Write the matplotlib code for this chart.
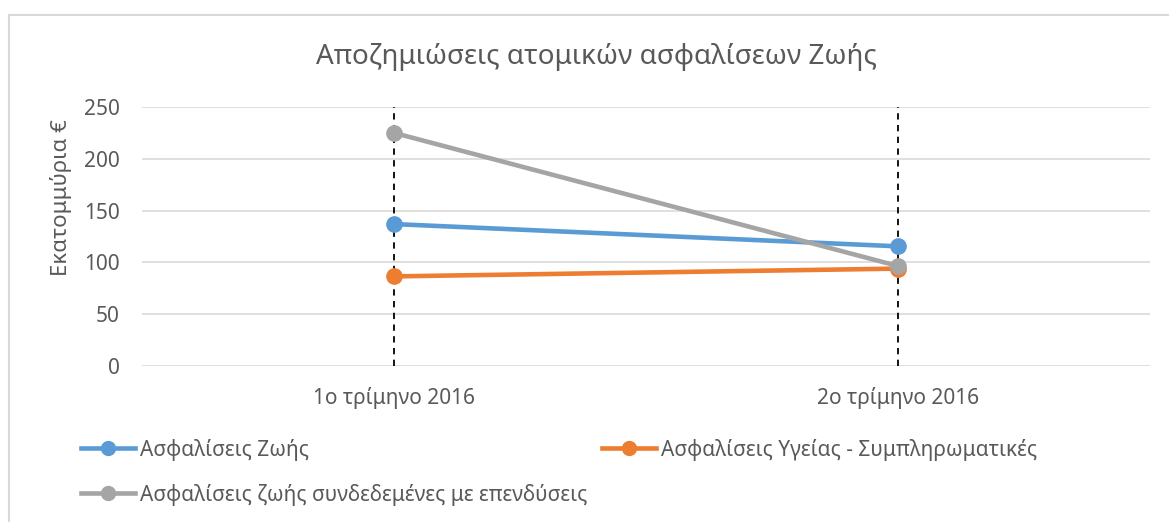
import matplotlib.pyplot as plt
from matplotlib.lines import Line2D

plt.rcParams['font.family'] = ['Noto Sans', 'DejaVu Sans']

quarters = ['1ο τρίμηνο 2016', '2ο τρίμηνο 2016']
life = [137, 115.5]
health = [86.5, 94]
unit_linked = [225, 96.5]
series_names = ['Ασφαλίσεις Ζωής', 'Ασφαλίσεις Υγείας - Συμπληρωματικές',
                'Ασφαλίσεις ζωής συνδεδεμένες με επενδύσεις']
colors = ['#5b9bd5', '#ed7d31', '#a5a5a5']
txt = '#595959'

fig = plt.figure(figsize=(11.69, 5.22), dpi=100)
ax = fig.add_axes([142 / 1169, 1 - 366 / 522, (1150 - 142) / 1169, (366 - 107) / 522])

x = list(range(len(quarters)))
# drop lines
for xi in x:
    ax.plot([xi, xi], [0, 250], color='black', lw=1.3, ls=(0, (3.5, 3)), zorder=2)

for vals, c in zip([life, health, unit_linked], colors):
    ax.plot(x, vals, color=c, lw=3.3, marker='o', ms=11, zorder=3)

ax.set_xlim(-0.5, 1.5)
ax.set_ylim(0, 250)
ax.set_yticks(range(0, 251, 50))
ax.set_xticks(x)
ax.set_xticklabels(quarters)
ax.grid(axis='y', color='#d9d9d9', lw=1.2)
ax.set_axisbelow(True)
for s in ax.spines.values():
    s.set_visible(False)
ax.tick_params(length=0, labelsize=15, colors=txt)
ax.tick_params(axis='y', pad=16)
ax.tick_params(axis='x', pad=15)

fig.text(61 / 1169, 1 - 198 / 522, 'Εκατομμύρια €', rotation=90,
         ha='center', va='center', fontsize=16, color=txt)
fig.text(596 / 1169, 1 - 57 / 522, 'Αποζημιώσεις ατομικών ασφαλίσεων Ζωής',
         ha='center', va='center', fontsize=20, color=txt)

# legend is filled column by column, so order handles to read row-wise
order = [0, 2, 1]
handles = [Line2D([], [], color=colors[i], lw=3.3, marker='o', ms=10) for i in order]
labels = [series_names[i] for i in order]
fig.legend(handles, labels, ncol=2, loc='upper left',
           bbox_to_anchor=(62 / 1169, 1 - 420 / 522), frameon=False,
           fontsize=15, labelcolor=txt, handlelength=2.6, handletextpad=0.25,
           columnspacing=0.7, labelspacing=1.1)

# chart-area border (top and left edges visible)
fig.add_artist(Line2D([8.5 / 1169, 8.5 / 1169], [0, 1 - 15 / 522], color='#d9d9d9', lw=1.5))
fig.add_artist(Line2D([8.5 / 1169, 1], [1 - 15 / 522, 1 - 15 / 522], color='#d9d9d9', lw=1.5))

fig.savefig('out.png', dpi=100)
